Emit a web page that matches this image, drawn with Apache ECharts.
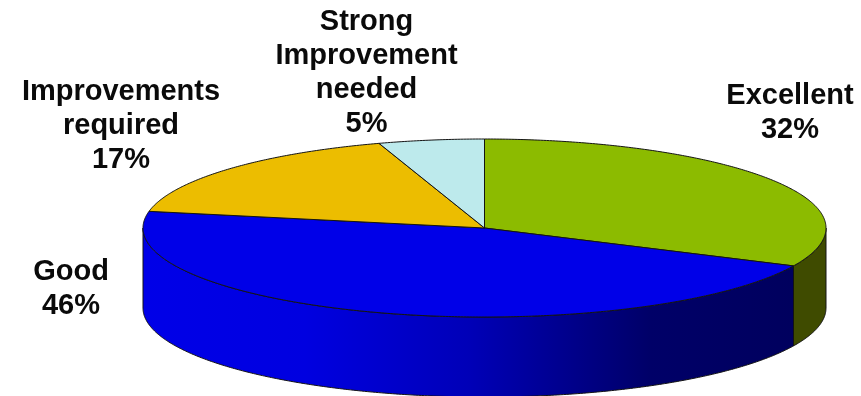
<!DOCTYPE html>
<html><head><meta charset="utf-8">
<style>html,body{margin:0;padding:0;background:#fff}#c{width:861px;height:396px}</style>
<script src="https://cdn.jsdelivr.net/npm/echarts@6/dist/echarts.min.js"></script>
</head><body><div id="c"></div>
<script>
const categories = ['Excellent', 'Good', 'Improvements required', 'Strong Improvement needed'];
const labelLines = [['Excellent'], ['Good'], ['Improvements', 'required'], ['Strong', 'Improvement', 'needed']];
const values = [32, 46, 17, 5];

const pie = { cx: 484.5, cy: 228, rx: 341.5, ry: 89, depth: 80, startDeg: -90 };
const labelAnchors = [[790, 95.5], [71, 272], [121, 91.5], [366.5, 22]];
const lineHeight = 34;
const topColors = ['#8cbb00', '#0000e8', '#ecbd00', '#bdeaec'];
const sideColors = [
  '#3f4b00',
  { type: 'linear', x: 143, y: 0, x2: 793, y2: 0, global: true,
    colorStops: [{offset:0,color:'#0000e8'},{offset:0.25,color:'#0000e0'},{offset:0.5,color:'#0000b8'},{offset:0.78,color:'#000068'},{offset:1,color:'#00005e'}] },
  '#0000e8', '#bdeaec'
];
const edge = '#141414';
const total = values.reduce((a, b) => a + b, 0);
const pt = (deg, dy) => {
  const r = deg * Math.PI / 180;
  return [pie.cx + pie.rx * Math.cos(r), pie.cy + (dy || 0) + pie.ry * Math.sin(r)];
};
// points along the rim from angle a to angle b, on the ellipse shifted down by dy
const rim = (a, b, dy) => {
  const n = Math.max(2, Math.ceil(Math.abs(b - a) * 2));
  const out = [];
  for (let k = 0; k <= n; k++) out.push(pt(a + (b - a) * k / n, dy));
  return out;
};

function renderItem(params, api) {
  const i = params.dataIndex;
  let before = 0;
  for (let k = 0; k < i; k++) before += values[k];
  const a0 = pie.startDeg + before / total * 360;
  const a1 = a0 + api.value(0) / total * 360;
  const children = [];
  // visible wall: the part of the slice rim on the front half of the ellipse
  const s0 = Math.max(a0, 0), s1 = Math.min(a1, 180);
  if (s1 > s0) {
    children.push({
      type: 'polygon',
      shape: { points: rim(s0, s1, 0).concat(rim(s1, s0, pie.depth)) },
      style: { fill: sideColors[i], stroke: edge, lineWidth: 1, lineJoin: 'round' }
    });
  }
  children.push({
    type: 'polygon',
    shape: { points: [[pie.cx, pie.cy]].concat(rim(a0, a1, 0)) },
    style: { fill: topColors[i], stroke: edge, lineWidth: 1, lineJoin: 'round' }
  });
  const lines = labelLines[i].concat([api.value(0) + '%']);
  lines.forEach((txt, n) => children.push({
    type: 'text',
    style: { text: txt, x: labelAnchors[i][0], y: labelAnchors[i][1] + n * lineHeight,
      align: 'center', verticalAlign: 'middle', fill: '#0a0a0a',
      font: 'bold 29px "Liberation Sans", Arial, sans-serif' }
  }));
  return { type: 'group', children };
}

const chart = echarts.init(document.getElementById('c'), null, { renderer: 'canvas' });
chart.setOption({
  animation: false,
  backgroundColor: '#fff',
  series: [{
    type: 'custom',
    coordinateSystem: 'none',
    renderItem,
    silent: true,
    data: values.map((v, i) => ({ name: categories[i], value: [v] }))
  }]
});
</script></body></html>
